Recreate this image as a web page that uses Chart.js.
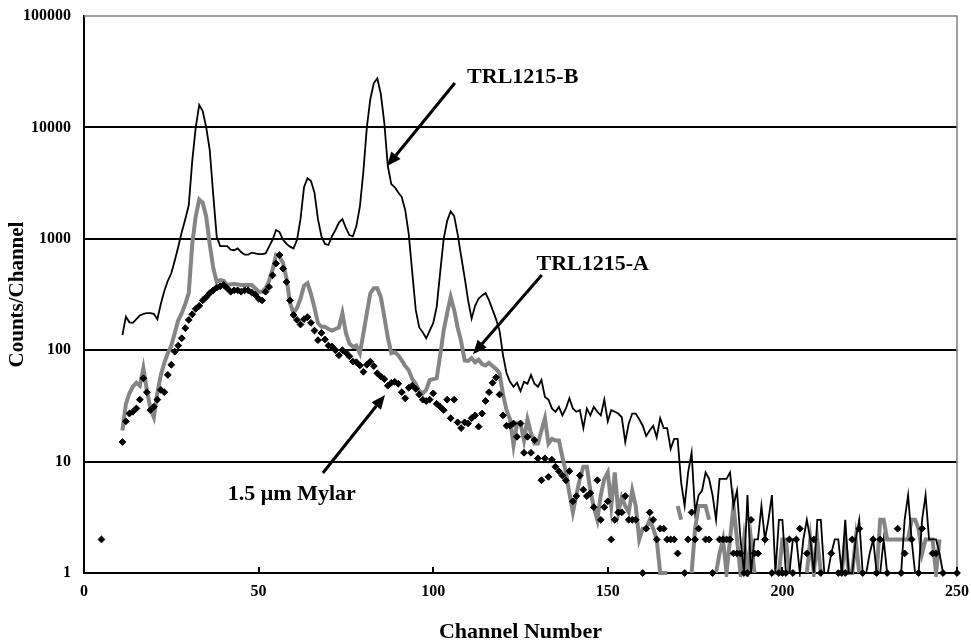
<!DOCTYPE html>
<html><head><meta charset="utf-8">
<script src="https://cdn.jsdelivr.net/npm/chart.js@4/dist/chart.umd.min.js"></script>
<style>html,body{margin:0;padding:0;background:#fff}</style>
</head><body>
<canvas id="c" width="971" height="643"></canvas>
<script>
// Channel numbers 5..250
const firstChannel = 5;
const lastChannel = 250;
const channels = Array.from({length: lastChannel - firstChannel + 1}, (_, i) => firstChannel + i);

const xTicks = [0, 50, 100, 150, 200, 250];
const yTicks = [1, 10, 100, 1000, 10000, 100000];

// TRL1215-B (thin black line), channels 5..250
const trlB = [null,null,null,null,null,null,
137,200,178,176,190,205,212,215,215,212,
190,260,340,420,490,640,850,1150,1500,2000,
5000,10000,15900,14000,10000,6300,2500,1050,860,860,
860,800,790,820,760,720,720,750,740,730,
730,740,850,980,1200,1150,980,900,850,820,
980,1500,2900,3500,3300,2600,1500,1050,900,880,
1050,1200,1400,1500,1250,1080,1050,1300,1940,4000,
10000,18000,25000,27500,20000,11000,4500,3100,2900,2600,
2370,1800,1100,500,230,160,145,128,150,175,
245,500,1000,1450,1760,1600,1100,700,450,280,
192,250,290,310,325,280,230,190,150,90,
62,52,47,51,43,52,50,60,50,47,
54,38,36,30,28,31,26,30,37,30,
28,29,20,30,26,31,28,26,36,23,
29,28,27,25,15,22,27,27,24,21,
17,19,21,16.5,24.5,20,20,13,16,16,
6.5,4,8,12,3.5,5,5.5,8,7,5,
3,7,7,7,8,4,5.5,2,1,5,
1,2,2,4,2,3,5,1,3,3,
1,1,2,2,1,2,3,2,1,3,
3,1,1,1.5,2,2,1,3,1,1,
2,3,1,1,1.5,2,1,1,2,1,
1,1,1,1,3,5,2,1,1,3,
5,2,2,2,1.5,1,1,1,1,1];

// TRL1215-A (thick grey line), channels 5..250
const trlA = [null,null,null,null,null,null,
19,33,41,47,51,48,69,44,30,25,
41,60,77,94,110,143,186,215,260,325,
900,1600,2250,2100,1580,900,550,410,425,420,
385,390,395,390,385,385,385,385,360,335,
335,360,420,525,715,690,605,440,265,215,
240,290,380,400,320,240,175,162,162,155,
150,155,160,215,143,115,107,110,94,140,
215,325,360,360,300,200,130,94,96,90,
81,72,66,55,50,43,41,44,54,55,
56,90,150,215,300,230,160,120,81,80,
85,78,82,75,73,77,72,68,62,40,
29,24,14,22,22,15.5,24,18,14.5,14.5,
19,24.5,14.5,16,15.5,15.5,11,8,5.2,3.5,
5,7,9,9,5.5,3.9,3,5,7,8,
4,8,3.5,4.8,4,3.5,5.5,4,2,2.5,
2.5,3,2.5,2,1,1,1,null,null,4,
3,null,null,1,2.5,4,4,4,3,null,
1,1.5,2,1,2,4,2,1,2,1,
2,1,null,null,null,null,null,1,1,2,
2,1,null,null,null,null,1,2,1,2,
1,null,null,null,null,null,1,2,1,1,
2,1,null,null,null,1,1,3,3,2,
2,2,2,2,2,2,3,3,2.5,1.5,
2,2,2,1,2,null,null,null,null,null];

// 1.5 um Mylar (black diamonds), channels 5..250
const mylar = [2,null,null,null,null,null,
15,23,27,28,30,36,56,42,29,31,
36,44,42,60,74,97,110,128,158,187,
210,235,250,280,300,325,345,365,375,385,
360,335,345,345,335,345,345,330,315,290,
280,335,370,470,600,715,540,410,280,207,
187,170,190,198,176,150,123,143,125,110,
108,100,90,100,95,88,79,78,73,64,
74,79,72,62,58,55,48,51,52,50,
42,37,46,48,45,40,36,35,36,41,
33,31,29,36,24.5,36,22.5,20,22.5,22,
24.5,26,20.6,27,35,42,51,57,40,26,
21,21,22,16.7,22,12,16.7,12,15.6,10.7,
6.8,10.7,7.3,10.4,9,8.2,7.5,6.8,8.2,4.4,
4.9,7.5,5.6,4.9,5.2,3.9,6.8,3,3.9,4.4,
2,3,3.5,3.5,4.9,3,3,3,null,1,
2.5,3.5,3,2,2.5,2.5,2,2,2,1.5,
null,1,2,3.5,2,2.5,null,2,2,1,
null,2,2,2,2,1.5,1.5,1.5,1,1,
3,1.5,1.5,null,2,null,1,null,1,1,
1,2,1,2,2.5,null,1.5,null,2,null,
1,null,null,1.5,null,1,1,1,null,2,
null,2.5,1,null,null,2,1,2,null,1,
null,null,2.5,1,1.5,null,2,null,1,2.5,
null,null,1.5,1.5,null,1,null,null,null,1];

const seriesNames = ['TRL1215-B', 'TRL1215-A', '1.5 \u03bcm Mylar'];

// Callout labels with arrows, anchored in data coordinates [channel, counts]
const callouts = [
  {text: 'TRL1215-B', at: [109.7, 24900], from: [106.2, 25000], to: [86.8, 4500]},
  {text: 'TRL1215-A', at: [129.6, 525], from: [131.1, 473], to: [111.4, 92]},
  {text: '1.5 \u03bcm Mylar', at: [41.2, 4.52], from: [68.4, 7.9], to: [86.2, 39.6]}
];

const toXY = arr => channels.map((c, i) => ({x: c, y: arr[i]}));

const FONT = 'Liberation Serif';

const decorPlugin = {
  id: 'decor',
  afterDatasetsDraw(chart) {
    const {ctx, chartArea: a, scales: {x, y}} = chart;
    ctx.save();
    // grey frame top/right
    ctx.strokeStyle = '#808080';
    ctx.lineWidth = 1.5;
    ctx.beginPath();
    ctx.moveTo(a.left, a.top);
    ctx.lineTo(a.right, a.top);
    ctx.lineTo(a.right, a.bottom);
    ctx.stroke();
    // inward x tick marks
    ctx.strokeStyle = '#000';
    ctx.lineWidth = 2;
    xTicks.forEach(v => {
      if (v === 0) return;
      const px = Math.round(x.getPixelForValue(v));
      ctx.beginPath();
      ctx.moveTo(px, a.bottom);
      ctx.lineTo(px, a.bottom - 6);
      ctx.stroke();
    });
    // callouts
    ctx.fillStyle = '#000';
    ctx.font = 'bold 22px "' + FONT + '"';
    ctx.textAlign = 'left';
    ctx.textBaseline = 'alphabetic';
    callouts.forEach(c => {
      const tx = x.getPixelForValue(c.at[0]), ty = y.getPixelForValue(c.at[1]);
      ctx.fillText(c.text, tx, ty);
      const x0 = x.getPixelForValue(c.from[0]), y0 = y.getPixelForValue(c.from[1]);
      const x1 = x.getPixelForValue(c.to[0]), y1 = y.getPixelForValue(c.to[1]);
      const ang = Math.atan2(y1 - y0, x1 - x0);
      const hl = 14, hw = 6;
      const bx = x1 - hl * Math.cos(ang), by = y1 - hl * Math.sin(ang);
      ctx.lineWidth = 3;
      ctx.beginPath();
      ctx.moveTo(x0, y0);
      ctx.lineTo(bx, by);
      ctx.stroke();
      ctx.beginPath();
      ctx.moveTo(x1, y1);
      ctx.lineTo(bx + hw * Math.sin(ang), by - hw * Math.cos(ang));
      ctx.lineTo(bx - hw * Math.sin(ang), by + hw * Math.cos(ang));
      ctx.closePath();
      ctx.fill();
    });
    ctx.restore();
  }
};

new Chart(document.getElementById('c'), {
  type: 'line',
  data: {
    datasets: [
      {label: seriesNames[2], data: toXY(mylar), showLine: false, pointStyle: 'rectRot',
       pointRadius: 3.4, pointBackgroundColor: '#000', pointBorderColor: '#000', pointBorderWidth: 1,
       order: 0, clip: false},
      {label: seriesNames[0], data: toXY(trlB), borderColor: '#000', borderWidth: 1.8,
       pointRadius: 0, tension: 0, spanGaps: false, order: 1, clip: 4},
      {label: seriesNames[1], data: toXY(trlA), borderColor: '#858585', borderWidth: 4,
       pointRadius: 0, tension: 0, spanGaps: false, order: 2, clip: 4}
    ]
  },
  options: {
    responsive: false,
    animation: false,
    devicePixelRatio: 1,
    layout: {padding: {top: 16, right: 14, bottom: 0, left: 0}},
    plugins: {legend: {display: false}, tooltip: {enabled: false}},
    scales: {
      x: {
        type: 'linear', min: 0, max: 250,
        afterFit: s => { s.height = 70; s.paddingLeft = 0; s.paddingRight = 0; },
        afterBuildTicks: s => { s.ticks = xTicks.map(v => ({value: v})); },
        grid: {display: true, drawOnChartArea: false, drawTicks: false, color: 'rgba(0,0,0,0)'},
        border: {display: true, color: '#000', width: 2},
        ticks: {color: '#000', padding: 9, font: {family: FONT, size: 16, weight: 'bold'}, maxRotation: 0},
        title: {display: true, text: 'Channel Number', color: '#000',
                font: {family: FONT, size: 22, weight: 'bold', lineHeight: 1.0}, padding: {top: 0, bottom: 0}}
      },
      y: {
        type: 'logarithmic', min: 1, max: 100000,
        afterFit: s => { s.width = 84; s.paddingTop = 0; s.paddingBottom = 0; },
        afterBuildTicks: s => { s.ticks = yTicks.map(v => ({value: v})); },
        grid: {color: c => (c.tick && c.tick.value === 100000) ? 'rgba(0,0,0,0)' : '#000', lineWidth: 2, drawTicks: false},
        border: {display: true, color: '#000', width: 2},
        ticks: {color: '#000', padding: 13, font: {family: FONT, size: 16, weight: 'bold'},
                callback: v => String(v)},
        title: {display: true, text: 'Counts/Channel', color: '#000',
                font: {family: FONT, size: 21, weight: 'bold'}, padding: {top: 5, bottom: 0}}
      }
    }
  },
  plugins: [decorPlugin]
});
</script>
</body></html>
